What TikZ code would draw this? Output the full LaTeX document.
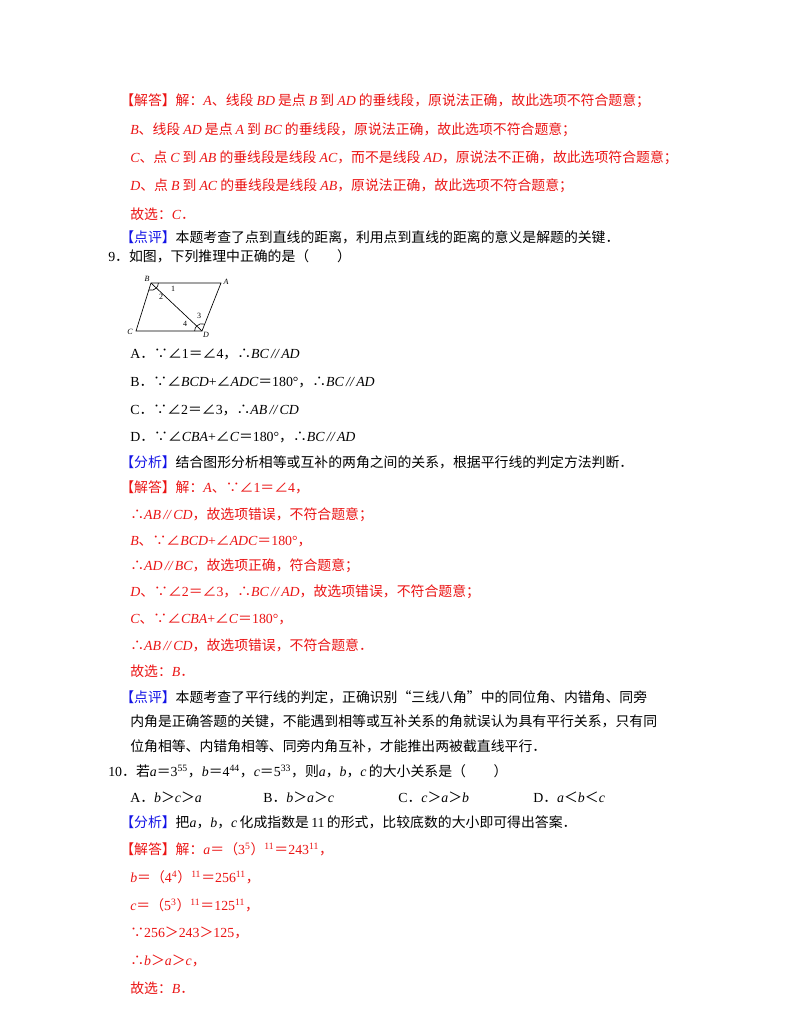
\documentclass[tikz,border=0pt]{standalone}
\usepackage{fontspec}
\usetikzlibrary{angles}
\setmainfont{Noto Sans CJK SC}
\newfontfamily\lat{Liberation Serif}
\newcommand{\I}[1]{{\lat\itshape #1}}
\newcommand{\J}[1]{\hspace{.22em}{\lat\itshape #1}\hspace{.22em}}
\newcommand{\K}[1]{\hspace{.22em}{\lat\itshape #1}}
\newcommand{\R}[1]{{\lat #1}}
\newcommand{\SP}[1]{\textsuperscript{\lat #1}}
\newcommand{\PL}{\I{\,//\,}}
\definecolor{myred}{RGB}{235,20,20}
\definecolor{myblue}{RGB}{20,20,230}
\begin{document}
\begin{tikzpicture}[x=0.75pt,y=-0.75pt,
  tx/.style={anchor=west,inner sep=0pt,font=\fontsize{10.4}{12}\selectfont},
  rd/.style={tx,text=myred},
  geo/.style={line width=0.5pt},
  ang/.style={draw,line width=0.5pt,angle radius=5.5pt},
  lb/.style={inner sep=0pt,font=\fontsize{6}{7}\selectfont\lat\itshape},
  nb/.style={inner sep=0pt,font=\fontsize{6}{7}\selectfont\lat}]
\path[use as bounding box,fill=white] (0,0) rectangle (800,1035);
\node[rd] (l1) at (120,101) {【解答】解：\I{A}、线段\J{BD}是点\J{B}到\J{AD}的垂线段，原说法正确，故此选项不符合题意；};
\node[rd] (l2) at (130,130) {\I{B}、线段\J{AD}是点\J{A}到\J{BC}的垂线段，原说法正确，故此选项不符合题意；};
\node[rd] (l3) at (130,158) {\I{C}、点\J{C}到\J{AB}的垂线段是线段\K{AC}，而不是线段\K{AD}，原说法不正确，故此选项符合题意；};
\node[rd] (l4) at (130,186) {\I{D}、点\J{B}到\J{AC}的垂线段是线段\K{AB}，原说法正确，故此选项不符合题意；};
\node[rd] (l5) at (130,214) {故选：\I{C}．};
\node[tx] (l6) at (120,237) {\textcolor{myblue}{【点评】}本题考查了点到直线的距离，利用点到直线的距离的意义是解题的关键．};
\node[tx] (q9) at (108,256) {\R{9}．如图，下列推理中正确的是（　　）};
% figure
\coordinate (B) at (151,283); \coordinate (A) at (221,283);
\coordinate (C) at (136,331); \coordinate (D) at (202,331);
\draw[geo] (B) -- (A) -- (D) -- (C) -- cycle;
\draw[geo] (B) -- (D);
\pic[ang] {angle=D--B--A};
\pic[ang] {angle=C--B--D};
\pic[ang] {angle=A--D--B};
\pic[ang] {angle=B--D--C};
\node[lb] (nB) at (147,279) {B};
\node[lb] (nA) at (226,282) {A};
\node[lb] (nC) at (130,332) {C};
\node[lb] (nD) at (206,335) {D};
\node[nb] (n1) at (173,289) {1};
\node[nb] (n2) at (161,297) {2};
\node[nb] (n3) at (199,316) {3};
\node[nb] (n4) at (185,324) {4};
\node[tx] (oA) at (130,354) {\R{A}．∵∠\R{1}＝∠\R{4}，∴\I{BC}\PL\I{AD}};
\node[tx] (oB) at (130,382) {\R{B}．∵∠\I{BCD}\R{+}∠\I{ADC}＝\R{180°}，∴\I{BC}\PL\I{AD}};
\node[tx] (oC) at (130,410) {\R{C}．∵∠\R{2}＝∠\R{3}，∴\I{AB}\PL\I{CD}};
\node[tx] (oD) at (130,437) {\R{D}．∵∠\I{CBA}\R{+}∠\I{C}＝\R{180°}，∴\I{BC}\PL\I{AD}};
\node[tx] (f9) at (120,462) {\textcolor{myblue}{【分析】}结合图形分析相等或互补的两角之间的关系，根据平行线的判定方法判断．};
\node[rd] (s1) at (120,487) {【解答】解：\I{A}、∵∠\R{1}＝∠\R{4}，};
\node[rd] (s2) at (130,515) {∴\I{AB}\PL\I{CD}，故选项错误，不符合题意；};
\node[rd] (s3) at (130,541) {\I{B}、∵∠\I{BCD}\R{+}∠\I{ADC}＝\R{180°}，};
\node[rd] (s4) at (130,566) {∴\I{AD}\PL\I{BC}，故选项正确，符合题意；};
\node[rd] (s5) at (130,592) {\I{D}、∵∠\R{2}＝∠\R{3}，∴\I{BC}\PL\I{AD}，故选项错误，不符合题意；};
\node[rd] (s6) at (130,619) {\I{C}、∵∠\I{CBA}\R{+}∠\I{C}＝\R{180°}，};
\node[rd] (s7) at (130,645) {∴\I{AB}\PL\I{CD}，故选项错误，不符合题意．};
\node[rd] (s8) at (130,671) {故选：\I{B}．};
\node[tx] (p1) at (120,697) {\textcolor{myblue}{【点评】}本题考查了平行线的判定，正确识别“三线八角”中的同位角、内错角、同旁};
\node[tx] (p2) at (130,721) {内角是正确答题的关键，不能遇到相等或互补关系的角就误认为具有平行关系，只有同};
\node[tx] (p3) at (130,746) {位角相等、内错角相等、同旁内角互补，才能推出两被截直线平行．};
\node[tx] (q10) at (108,771) {\R{10}．若\I{a}＝\R{3}\SP{55}，\I{b}＝\R{4}\SP{44}，\I{c}＝\R{5}\SP{33}，则\I{a}，\I{b}，\I{c}\,的大小关系是（　　）};
\node[tx] (pA) at (130,797) {\R{A}．\I{b}＞\I{c}＞\I{a}};
\node[tx] (pB) at (263,797) {\R{B}．\I{b}＞\I{a}＞\I{c}};
\node[tx] (pC) at (398,797) {\R{C}．\I{c}＞\I{a}＞\I{b}};
\node[tx] (pD) at (533,797) {\R{D}．\I{a}＜\I{b}＜\I{c}};
\node[tx] (f10) at (120,822) {\textcolor{myblue}{【分析】}把\I{a}，\I{b}，\I{c}\,化成指数是\,\R{11}\,的形式，比较底数的大小即可得出答案．};
\node[rd] (t1) at (120,849) {【解答】解：\I{a}＝（\R{3}\SP{5}）\SP{11}＝\R{243}\SP{11}，};
\node[rd] (t2) at (130,877) {\I{b}＝（\R{4}\SP{4}）\SP{11}＝\R{256}\SP{11}，};
\node[rd] (t3) at (130,905) {\I{c}＝（\R{5}\SP{3}）\SP{11}＝\R{125}\SP{11}，};
\node[rd] (t4) at (130,933) {∵\R{256}＞\R{243}＞\R{125}，};
\node[rd] (t5) at (130,961) {∴\I{b}＞\I{a}＞\I{c}，};
\node[rd] (t6) at (130,988) {故选：\I{B}．};
\end{tikzpicture}
\end{document}
